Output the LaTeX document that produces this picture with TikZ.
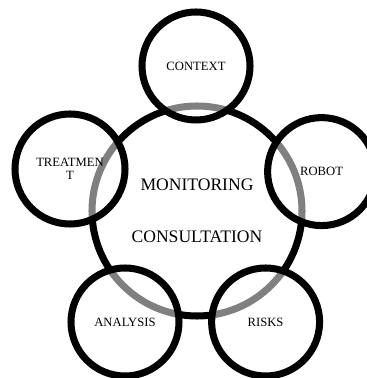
\documentclass[tikz,border=0pt]{standalone}
\usepackage{fontspec}
\setmainfont{Liberation Serif}
\usetikzlibrary{shapes, positioning}

\begin{document}
\begin{tikzpicture}[
  line width=5pt,
  hub/.style={circle, draw, minimum size=5.25cm, align=center,
    font=\fontsize{12.5}{15}\selectfont},
  petal/.style={circle, draw, minimum size=2.7cm, align=center,
    fill=white, fill opacity=.5, text opacity=1,
    font=\fontsize{9}{9.5}\selectfont}]

  \useasboundingbox (0,0) rectangle (9.15,9.45);

  \node[hub] (hub) at (4.925,4.175) {MONITORING\\[22pt]CONSULTATION};

  \node[petal] (context) at (4.9,7.8) {CONTEXT};
  \node[petal] (robot) at (8.04,5.16) {ROBOT};
  \node[petal] (risks) at (6.64,1.4) {RISKS};
  \node[petal] (analysis) at (3.125,1.4) {ANALYSIS};
  \node[petal, minimum size=2.75cm] (treatment) at (1.75,5.225) {TREATMEN\\T};
\end{tikzpicture}
\end{document}
